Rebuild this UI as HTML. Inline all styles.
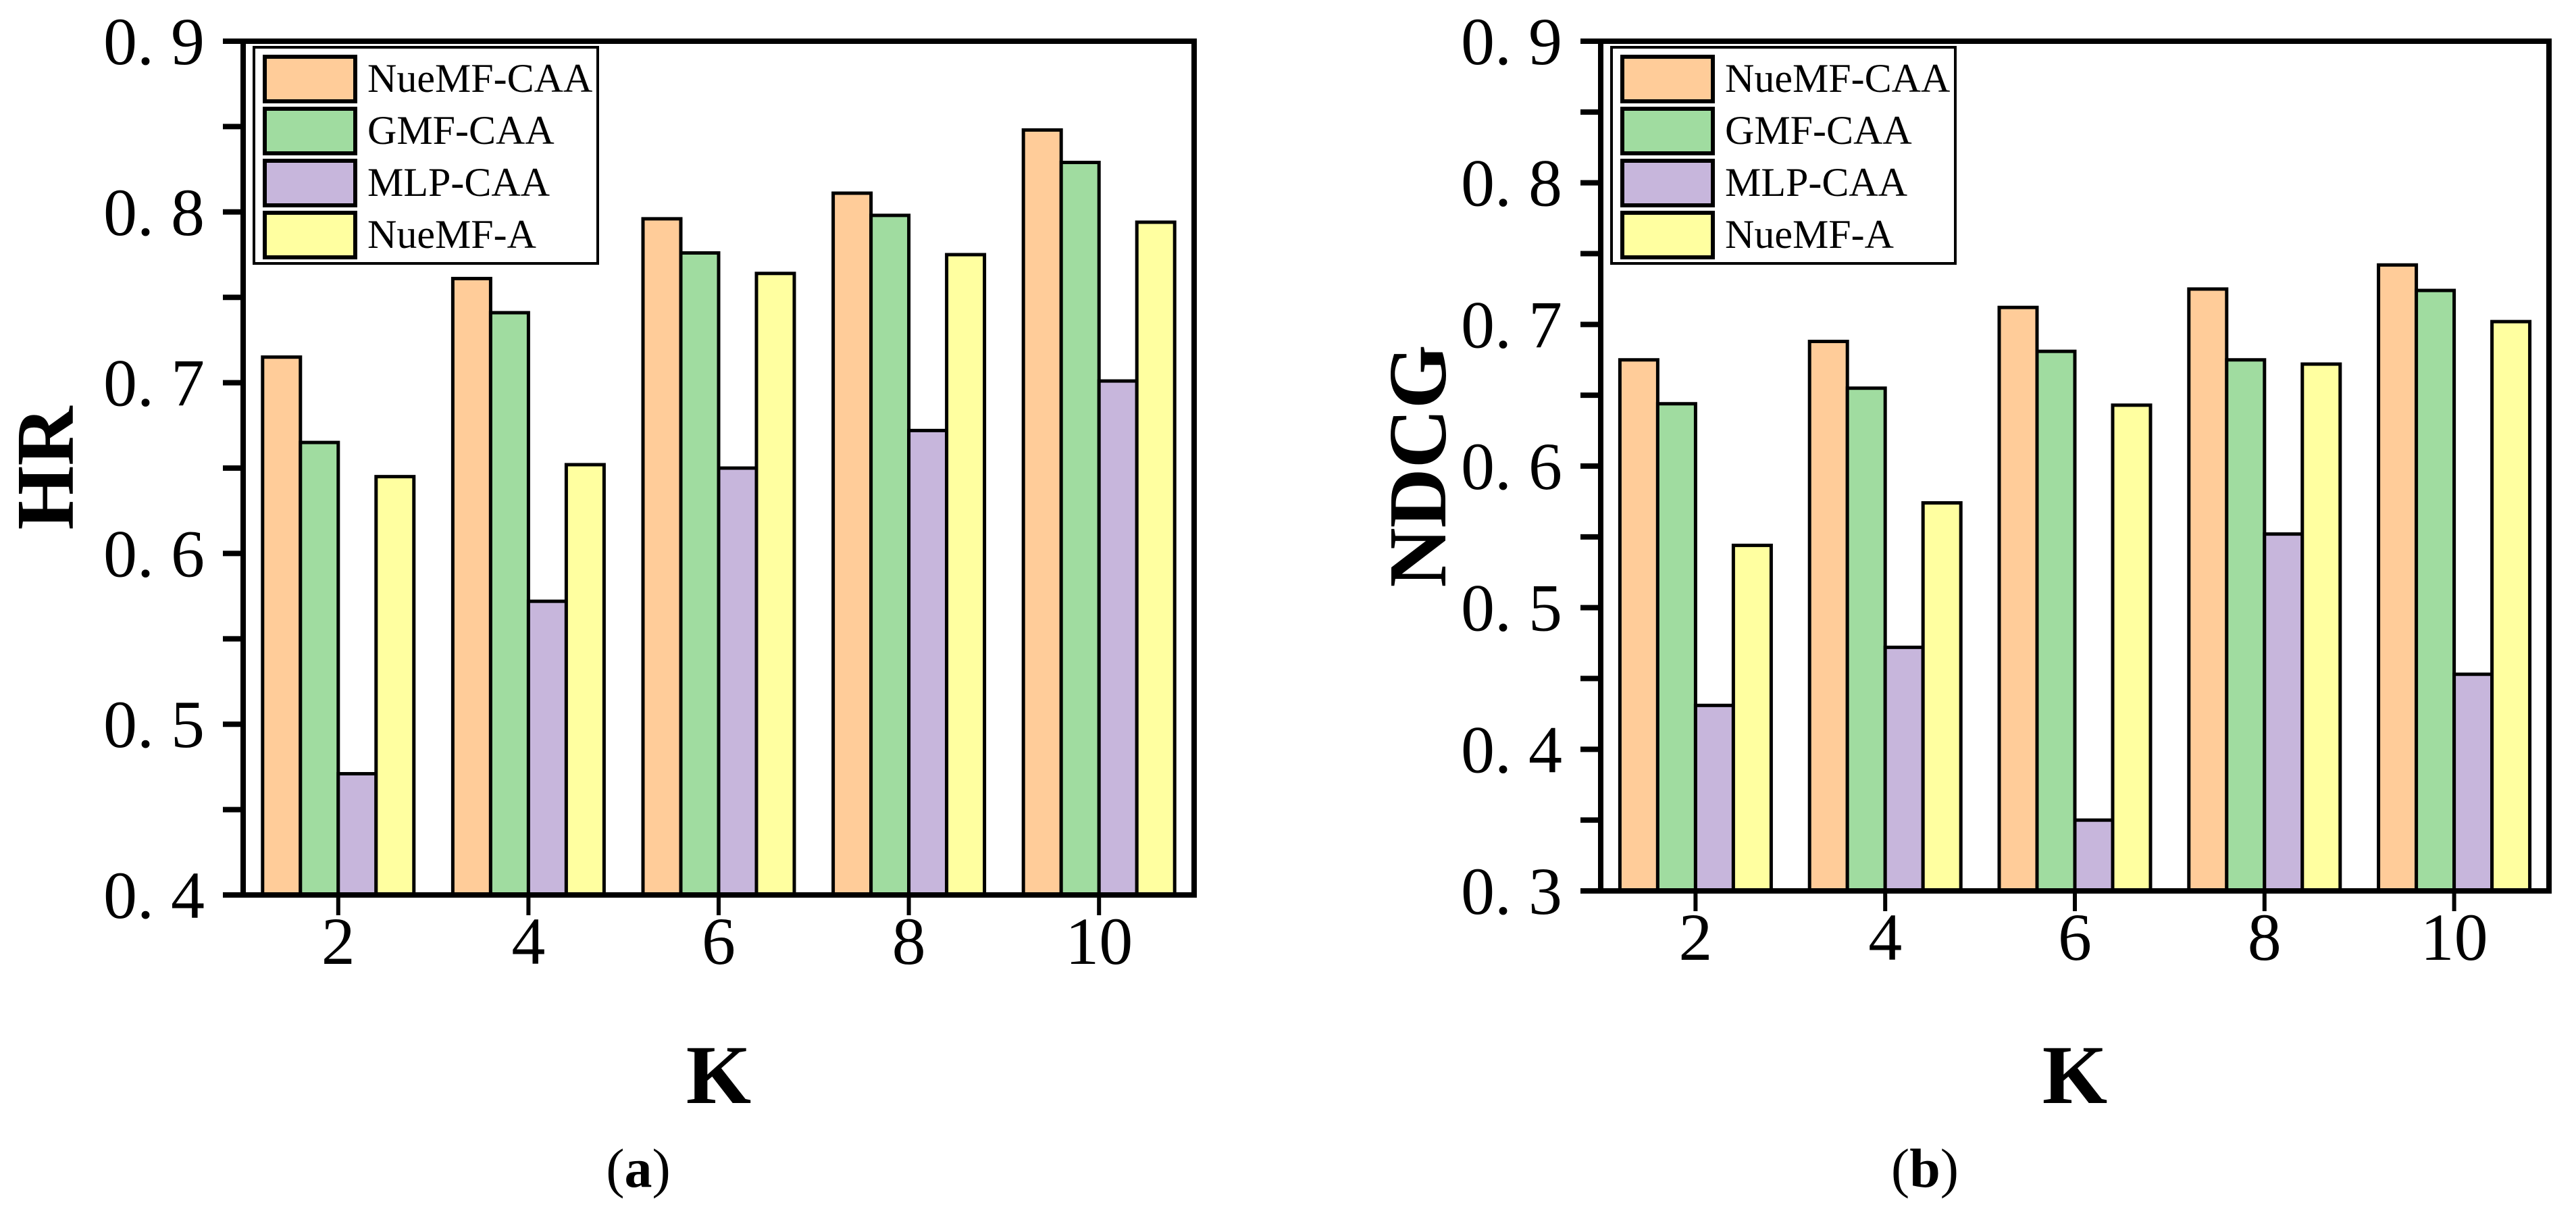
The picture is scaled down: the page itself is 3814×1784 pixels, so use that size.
<!DOCTYPE html>
<html><head><meta charset="utf-8">
<style>
html,body{margin:0;padding:0;background:#fff;}
svg{display:block;}
text{font-family:"Liberation Serif","Noto Serif CJK SC",serif;fill:#000;}
</style></head>
<body>
<svg id="fig" width="3814" height="1784" viewBox="0 0 3814 1784" xmlns="http://www.w3.org/2000/svg"></svg>
<script>
const categories = ["2","4","6","8","10"];
const seriesNames = ["NueMF-CAA","GMF-CAA","MLP-CAA","NueMF-A"];
const hrNueMFCAA = [0.715,0.761,0.796,0.811,0.848];
const hrGMFCAA   = [0.665,0.741,0.776,0.798,0.829];
const hrMLPCAA   = [0.471,0.572,0.650,0.672,0.701];
const hrNueMFA   = [0.645,0.652,0.764,0.775,0.794];
const ndcgNueMFCAA = [0.675,0.688,0.712,0.725,0.742];
const ndcgGMFCAA   = [0.644,0.655,0.681,0.675,0.724];
const ndcgMLPCAA   = [0.431,0.472,0.350,0.552,0.453];
const ndcgNueMFA   = [0.544,0.574,0.643,0.672,0.702];
const hrTicks = [0.4,0.5,0.6,0.7,0.8,0.9];
const ndcgTicks = [0.3,0.4,0.5,0.6,0.7,0.8,0.9];
const hrTickLabels = ["0. 4","0. 5","0. 6","0. 7","0. 8","0. 9"];
const ndcgTickLabels = ["0. 3","0. 4","0. 5","0. 6","0. 7","0. 8","0. 9"];
const colors = ["#FFCC99","#A0DCA0","#C7B6DC","#FFFFA0"];

const NS="http://www.w3.org/2000/svg";
const svg=document.getElementById('fig');
function mk(tag,attrs,parent){const e=document.createElementNS(NS,tag);for(const k in attrs)e.setAttribute(k,attrs[k]);(parent||svg).appendChild(e);return e;}

function panel(cfg){
  const g=mk('g',{});
  
  
  const L=cfg.left,R=cfg.right,T=cfg.top,B=cfg.bottom;
  const y=v=>B-(v-cfg.min)/(cfg.max-cfg.min)*(B-T);
  const band=(R-L)/categories.length;
  const bw=56;
  const pad=(band-bw*4)/2;
  const x=(i,s)=>L+i*band+pad+s*bw;
  const series=cfg.series;
  for(let s=0;s<series.length;s++){
    for(let i=0;i<categories.length;i++){
      const v=series[s][i];
      const r=mk('rect',{x:x(i,s),y:y(v),width:bw,height:B-y(v),fill:colors[s],stroke:'#000','stroke-width':5},g);
      
      
    }
  }
  for(let k=0;k<cfg.ticks.length;k++){
    const v=cfg.ticks[k];
    mk('line',{x1:L-30,x2:L,y1:y(v),y2:y(v),stroke:'#000','stroke-width':8},g);
    const t=mk('text',{x:L-57,y:y(v)+34,'text-anchor':'end','font-size':100},g);
    t.textContent=cfg.tickLabels[k];
    
    
    if(k<cfg.ticks.length-1){
      const m=(v+cfg.ticks[k+1])/2;
      mk('line',{x1:L-30,x2:L,y1:y(m),y2:y(m),stroke:'#000','stroke-width':8},g);
    }
  }
  for(let i=0;i<categories.length;i++){
    const cx=L+(i+0.5)*band;
    mk('line',{x1:cx,x2:cx,y1:B,y2:B+30,stroke:'#000','stroke-width':6},g);
    const t=mk('text',{x:cx,y:B+102,'text-anchor':'middle','font-size':100},g);
    t.textContent=categories[i];
    
    
  }
  const f=mk('rect',{x:L,y:T,width:R-L,height:B-T,fill:'none',stroke:'#000','stroke-width':8},g);
  
  
  const xt=mk('text',{x:(L+R)/2,y:1633,'text-anchor':'middle','font-size':124,'font-weight':'bold'},g);
  xt.textContent='K';
  
  
  const yt=mk('text',{x:0,y:0,'text-anchor':'middle','font-size':122,'font-weight':'bold',transform:'translate('+cfg.ytx+','+((T+B)/2)+') rotate(-90)'},g);
  yt.textContent=cfg.ytitle;
  
  
  const lg=mk('g',{},g);
  
  
  const lx=L+16;
  mk('rect',{x:lx,y:70,width:509,height:320,fill:'#fff',stroke:'#000','stroke-width':4},lg);
  for(let s=0;s<4;s++){
    const ry=84+s*77;
    const sw=mk('rect',{x:lx+16,y:ry,width:134,height:66,fill:colors[s],stroke:'#000','stroke-width':6},lg);
    
    
    const lt=mk('text',{x:lx+168,y:ry+52,'font-size':60},lg);
    lt.textContent=seriesNames[s];
    
    
  }
  const c=mk('text',{x:cfg.capx,y:1757,'text-anchor':'middle','font-size':82},g);
  c.innerHTML='(<tspan font-weight="bold">'+cfg.cap+'</tspan>)';
  
  
}

panel({name:'hr-chart',left:360,right:1768,top:61,bottom:1325,min:0.4,max:0.9,
  ticks:hrTicks,tickLabels:hrTickLabels,series:[hrNueMFCAA,hrGMFCAA,hrMLPCAA,hrNueMFA],
  ytitle:'HR',ytx:108,cap:'a',capx:945});
panel({name:'ndcg-chart',left:2370,right:3774,top:61,bottom:1319,min:0.3,max:0.9,
  ticks:ndcgTicks,tickLabels:ndcgTickLabels,series:[ndcgNueMFCAA,ndcgGMFCAA,ndcgMLPCAA,ndcgNueMFA],
  ytitle:'NDCG',ytx:2140,cap:'b',capx:2850});
</script>
</body></html>
